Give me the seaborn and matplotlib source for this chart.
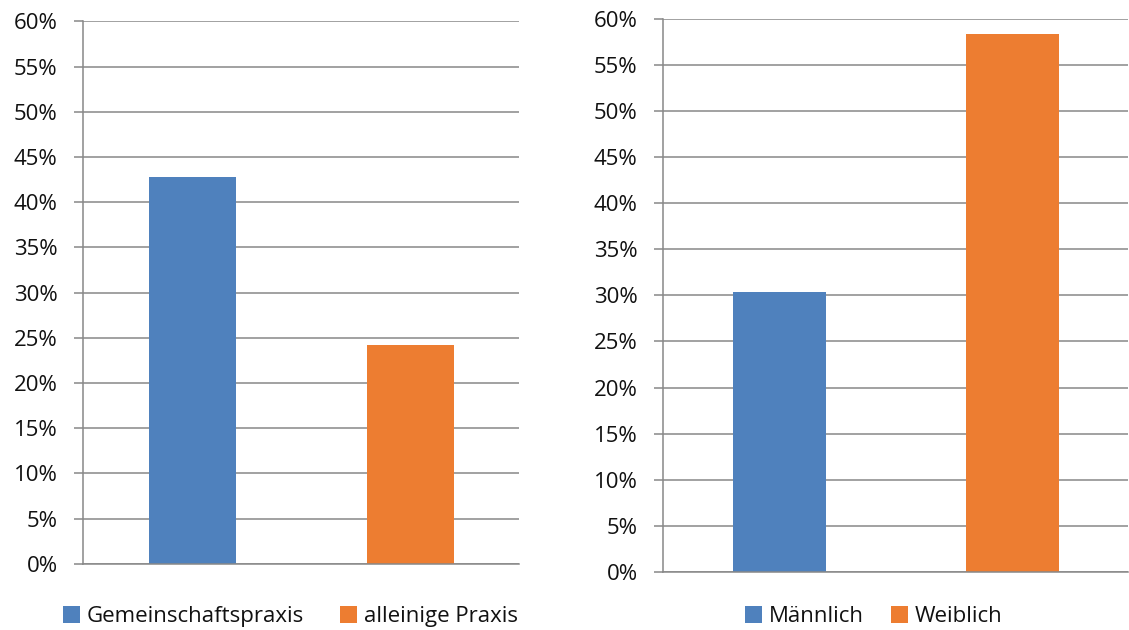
import seaborn as sns
import matplotlib.pyplot as plt
from matplotlib.ticker import PercentFormatter, MultipleLocator

# data
praxis_labels = ['Gemeinschaftspraxis', 'alleinige Praxis']
praxis_values = [42.8, 24.2]
geschlecht_labels = ['Männlich', 'Weiblich']
geschlecht_values = [30.4, 58.3]
bar_colors = ['#4F81BD', '#ED7D31']
grid_gray = '#888888'

sns.set_style('white')
plt.rcParams['font.family'] = ['Open Sans', 'DejaVu Sans']
plt.rcParams['text.color'] = '#111111'
plt.rcParams['ytick.labelcolor'] = '#111111'

fig = plt.figure(figsize=(11.29, 6.3), dpi=100)
ax_l = fig.add_axes([0.0738, 0.105, 0.3863, 0.861])
ax_r = fig.add_axes([0.5876, 0.092, 0.4119, 0.8785])


def draw(ax, labels, values, legend_x, colspace):
    sns.barplot(x=labels, y=values, hue=labels, palette=bar_colors,
                width=0.4, saturation=1, linewidth=0, ax=ax, legend=True)
    ax.set_ylim(0, 60)
    ax.yaxis.set_major_locator(MultipleLocator(5))
    ax.yaxis.set_major_formatter(PercentFormatter(decimals=0))
    ax.grid(axis='y', color=grid_gray, linewidth=1.1)
    ax.set_axisbelow(True)
    for s in ['top', 'right']:
        ax.spines[s].set_visible(False)
    for s in ['left', 'bottom']:
        ax.spines[s].set_color(grid_gray)
        ax.spines[s].set_linewidth(1.1)
    ax.tick_params(axis='y', length=6.5, width=1.1, color=grid_gray,
                   pad=12, labelsize=16, left=True)
    ax.tick_params(axis='x', bottom=False, labelbottom=False)
    ax.set_xlabel('')
    ax.set_ylabel('')
    sns.move_legend(ax, 'center', bbox_to_anchor=(legend_x, 0.021),
                    bbox_transform=fig.transFigure, ncol=2, frameon=False,
                    fontsize=16, handlelength=0.78, handleheight=0.78,
                    handletextpad=0.3, columnspacing=colspace, title=None)


draw(ax_l, praxis_labels, praxis_values, 0.257, 1.6)
draw(ax_r, geschlecht_labels, geschlecht_values, 0.774, 1.2)

fig.savefig('out.png', dpi=100)
